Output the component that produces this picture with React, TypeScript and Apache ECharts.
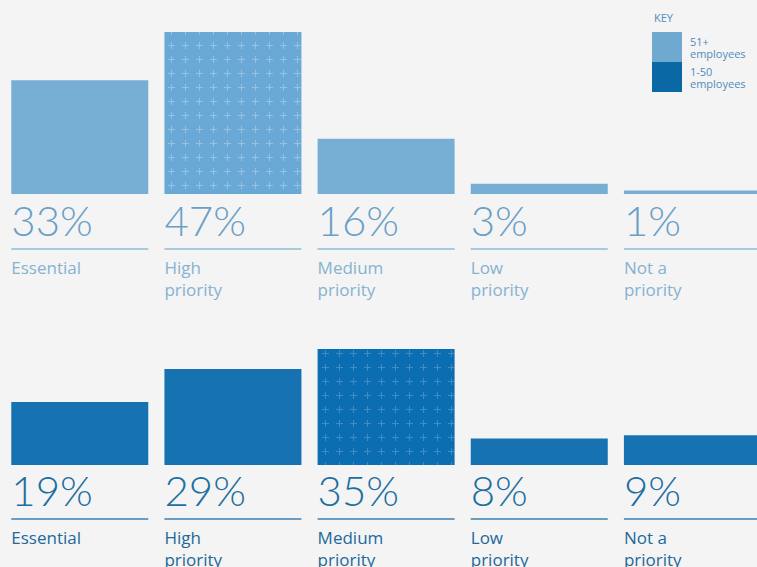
import React, { useEffect, useRef } from "react";
import * as echarts from "echarts";

const categories = ["Essential", "High\npriority", "Medium\npriority", "Low\npriority", "Not a\npriority"];
const largeFirms = [33, 47, 16, 3, 1];
const smallFirms = [19, 29, 35, 8, 9];
const seriesNames = ["51+\nemployees", "1-50\nemployees"];

const plusDecal = (color: string) => ({
  symbol: "path://M3,0h1v7h-1zM0,3h7v1h-7z",
  symbolSize: 1,
  symbolKeepAspect: true,
  dashArrayX: [7, 7],
  dashArrayY: [7, 7],
  color,
  rotation: 0,
});

function makeSeries(
  name: string,
  values: number[],
  idx: number,
  barColor: string,
  maxColor: string,
  decalColor: string,
  pctColor: string,
  catColor: string,
  hrColor: string,
  distance: number,
  catWeight: any
) {
  const max = Math.max(...values);
  return {
    name,
    type: "bar",
    xAxisIndex: idx,
    yAxisIndex: idx,
    barWidth: 137,
    itemStyle: { color: barColor },
    data: values.map((v) =>
      v === max
        ? { value: v, itemStyle: { color: maxColor, decal: plusDecal(decalColor) } }
        : { value: v }
    ),
    label: {
      show: true,
      position: "bottom",
      distance,
      align: "left",
      offset: [-68.5, 0],
      formatter: (p: any) => {
        const cat = String(p.name)
          .split("\n")
          .map((s: string) => `{cat|${s}}`)
          .join("\n");
        return `{pct|${p.value}%}\n{hr|}\n${cat}`;
      },
      rich: {
        pct: {
          fontFamily: "Lato",
          fontWeight: 300,
          fontSize: 42,
          lineHeight: 44,
          color: pctColor,
        },
        hr: {
          width: 137,
          height: 2,
          lineHeight: 14,
          backgroundColor: hrColor,
        },
        cat: {
          fontFamily: "Open Sans",
          fontWeight: catWeight,
          fontSize: 17,
          lineHeight: 22,
          color: catColor,
        },
      },
    },
  };
}

export default function App() {
  const ref = useRef<HTMLDivElement>(null);
  useEffect(() => {
    if (!ref.current) return;
    const chart = echarts.init(ref.current, undefined, { renderer: "svg" });
    const grids = [
      { left: 3.2, right: 0, top: 32, height: 162 },
      { left: 3.2, right: 0, top: 349, height: 116 },
    ];
    chart.setOption({
      animation: false,
      backgroundColor: "#f4f4f4",
      title: {
        text: "KEY",
        left: 654,
        top: 12,
        padding: 0,
        textStyle: { fontFamily: "Open Sans", fontSize: 11, fontWeight: "normal", color: "#4f8cbd" },
      },
      legend: {
        orient: "vertical",
        left: 652,
        top: 32,
        padding: 0,
        itemWidth: 30,
        itemHeight: 30,
        itemGap: 0,
        icon: "rect",
        selectedMode: false,
        data: [
          { name: seriesNames[0], itemStyle: { color: "#6fa9d0" } },
          { name: seriesNames[1], itemStyle: { color: "#0a69a5" } },
        ],
        textStyle: {
          fontFamily: "Open Sans",
          fontSize: 11,
          lineHeight: 12,
          color: "#4f8cbd",
          padding: [0, 0, 0, 3],
        },
      },
      grid: grids,
      xAxis: grids.map((_, i) => ({
        type: "category",
        gridIndex: i,
        data: categories,
        show: false,
      })),
      yAxis: [
        { type: "value", gridIndex: 0, min: 0, max: Math.max(...largeFirms), show: false },
        { type: "value", gridIndex: 1, min: 0, max: Math.max(...smallFirms), show: false },
      ],
      series: [
        makeSeries(seriesNames[0], largeFirms, 0, "#77aed4", "#6aa8d6", "rgba(255,255,255,0.3)", "#6b9fc6", "#86b2d0", "#a9c9df", 4, "normal"),
        makeSeries(seriesNames[1], smallFirms, 1, "#1672b0", "#0b6db2", "rgba(255,255,255,0.22)", "#1d6f9f", "#22689a", "#6d9cbf", 3, 500),
      ],
    });
    return () => chart.dispose();
  }, []);
  return (
    <div
      style={{ position: "fixed", left: 0, top: 0, width: 757, height: 567, overflow: "hidden" }}
    >
      <div ref={ref} style={{ width: 769, height: 567 }} />
    </div>
  );
}
